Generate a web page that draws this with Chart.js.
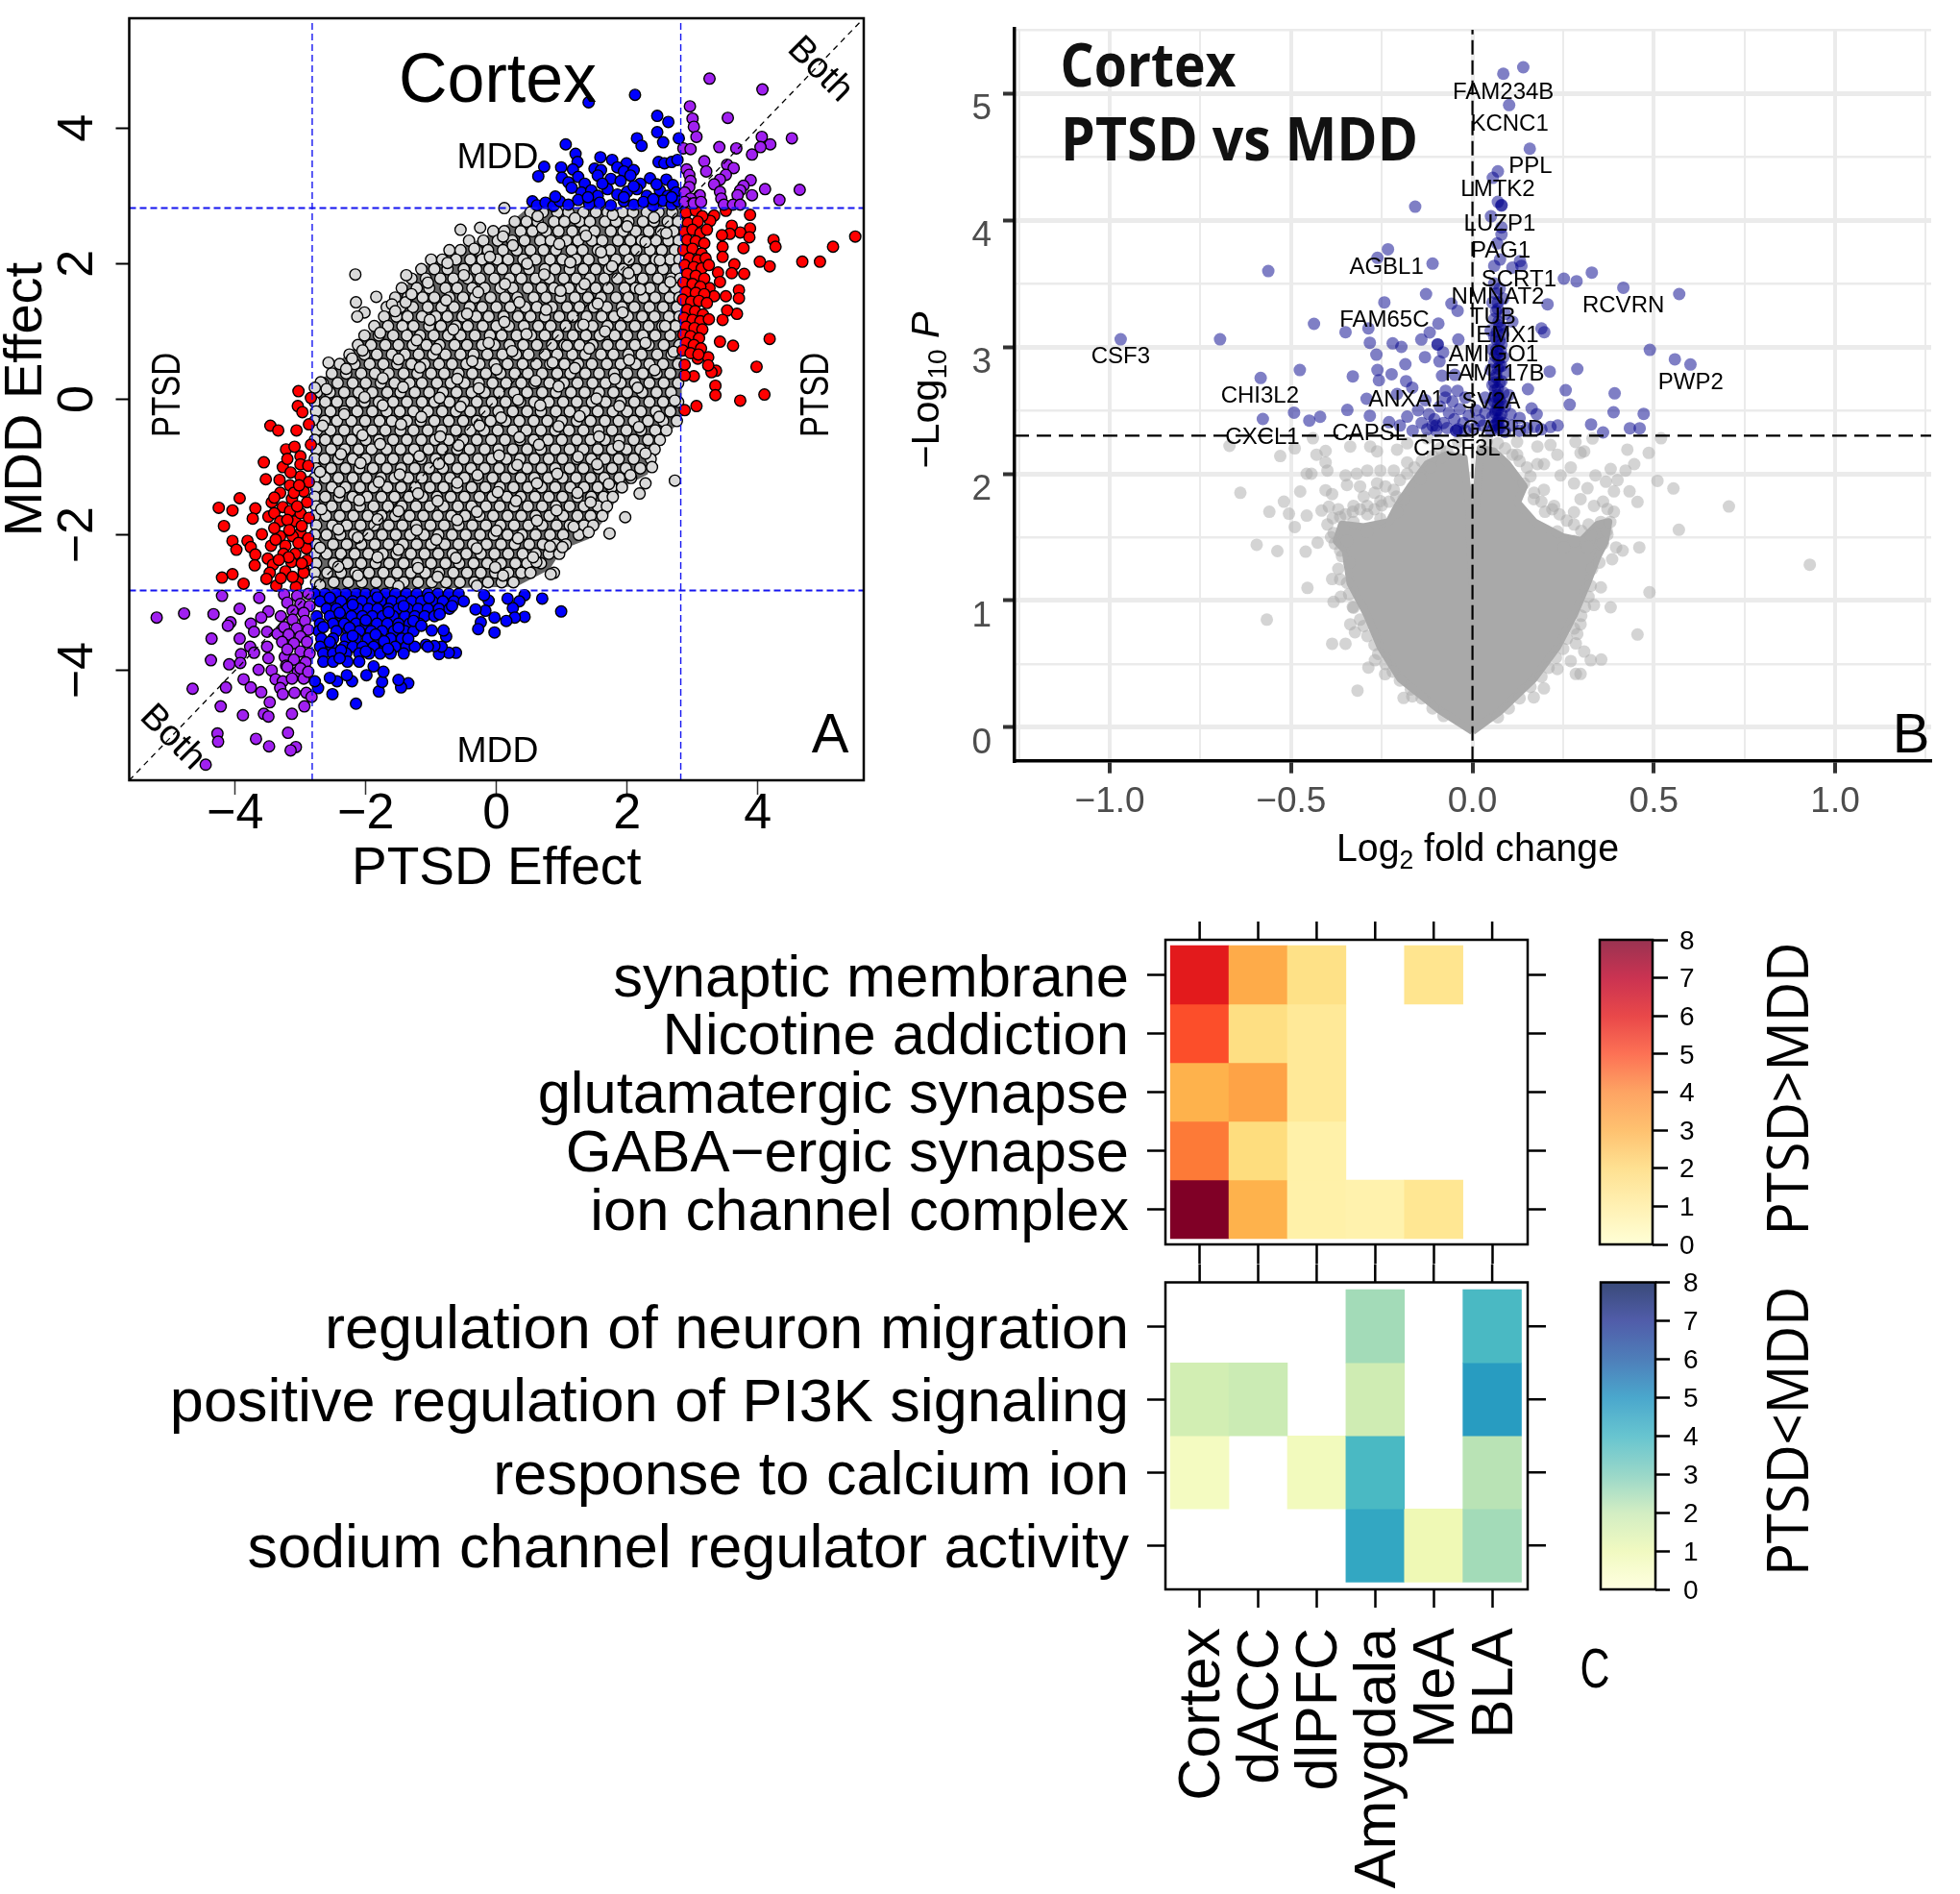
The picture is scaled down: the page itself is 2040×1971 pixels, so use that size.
<!DOCTYPE html>
<html><head><meta charset="utf-8">
<style>html,body{margin:0;padding:0;background:#fff;width:2040px;height:1971px;overflow:hidden}canvas{position:absolute}</style>
<script src="https://cdn.jsdelivr.net/npm/chart.js@4"></script>
</head><body>
<canvas id="a" width="960" height="960" style="left:0;top:0"></canvas>
<canvas id="b" width="1100" height="960" style="left:940px;top:0"></canvas>
<canvas id="c1" width="1640" height="375" style="left:0;top:940px"></canvas>
<canvas id="c2" width="1640" height="671" style="left:0;top:1300px"></canvas>
<canvas id="cb1" width="400" height="375" style="left:1640px;top:940px"></canvas>
<canvas id="cb2" width="400" height="480" style="left:1640px;top:1300px"></canvas>
<script>
// ---------- Panel A values ----------
const effectTicksA=[-4,-2,0,2,4];
const effectThreshold=2.82;
const cloudHullA=[[.45,2.78],[2.82,2.82],[2.82,-.3],[2.5,-.6],[2.3,-1.1],[1.9,-1.3],[1.7,-1.7],[1.4,-2.05],[1,-2.2],[.8,-2.5],[.3,-2.75],[-2.82,-2.82],[-2.82,.1],[-2.4,.55],[-2.1,.8],[-1.8,1.1],[-1.6,1.4],[-1.2,1.85],[-.9,2.1],[-.45,2.25],[-.1,2.42],[.2,2.58],[.45,2.78]];
const grayRowY=[2.76,2.62,2.48,2.34,2.2,2.06,1.92,1.78,1.64,1.5,1.36,1.22,1.08,.94,.8,.66,.52,.38,.24,.1,-.04,-.18,-.32,-.46,-.6,-.74,-.88,-1.02,-1.16,-1.3,-1.44,-1.58,-1.72,-1.86,-2,-2.14,-2.28,-2.42,-2.56,-2.7];
const grayRowX=[
[.52,.71,.93,1.1,1.33,1.52,1.7,1.93,2.09,2.3,2.48,2.69],
[.28,.46,.63,.88,1.04,1.27,1.43,1.66,1.83,2.02,2.24,2.41,2.62,2.78],
[-.05,.12,.37,.55,.76,.95,1.16,1.35,1.5,1.75,1.94,2.13,2.33,2.52,2.71],
[-.42,-.2,.02,.24,.43,.67,.83,1.07,1.25,1.46,1.62,1.86,2.05,2.22,2.44,2.63,2.79],
[-.72,-.55,-.3,-.13,.1,.31,.52,.72,.91,1.15,1.32,1.55,1.74,1.96,2.14,2.35,2.53,2.73],
[-1,-.83,-.62,-.4,-.22,.01,.18,.41,.6,.82,1.01,1.22,1.41,1.64,1.83,2.03,2.26,2.44,2.66,2.8],
[-1.15,-.95,-.75,-.5,-.31,-.11,.09,.3,.5,.74,.9,1.12,1.33,1.52,1.72,1.94,2.14,2.36,2.55,2.75],
[-1.3,-1.08,-.86,-.66,-.44,-.25,-.03,.2,.38,.6,.81,1.03,1.22,1.43,1.65,1.85,2.05,2.24,2.47,2.67,2.81],
[-1.45,-1.22,-1.03,-.78,-.6,-.37,-.18,.06,.25,.48,.69,.88,1.11,1.3,1.52,1.71,1.96,2.13,2.35,2.56,2.74],
[-1.55,-1.36,-1.13,-.95,-.72,-.51,-.33,-.09,.13,.32,.57,.76,.98,1.2,1.4,1.6,1.83,2.02,2.25,2.43,2.65,2.8],
[-1.68,-1.47,-1.28,-1.05,-.84,-.65,-.41,-.22,0,.21,.44,.62,.85,1.08,1.27,1.49,1.69,1.92,2.11,2.34,2.55,2.76],
[-1.72,-1.53,-1.36,-1.14,-.93,-.75,-.52,-.31,-.12,.11,.33,.52,.74,.96,1.17,1.38,1.61,1.8,2.01,2.23,2.42,2.64,2.8],
[-1.87,-1.66,-1.44,-1.27,-1.03,-.85,-.62,-.44,-.21,0,.19,.42,.64,.83,1.06,1.28,1.47,1.7,1.9,2.12,2.33,2.54,2.74],
[-2.02,-1.8,-1.58,-1.37,-1.17,-.96,-.74,-.55,-.33,-.1,.08,.31,.53,.74,.94,1.17,1.37,1.58,1.81,2,2.24,2.43,2.66],
[-2.12,-1.92,-1.7,-1.5,-1.28,-1.07,-.87,-.64,-.45,-.22,-.03,.2,.41,.62,.85,1.04,1.27,1.47,1.7,1.91,2.12,2.33,2.56,2.8],
[-2.25,-2.02,-1.83,-1.6,-1.4,-1.19,-.97,-.78,-.55,-.35,-.14,.09,.3,.49,.74,.93,1.16,1.36,1.6,1.79,2.02,2.22,2.46,2.68],
[-2.4,-2.17,-1.94,-1.73,-1.52,-1.3,-1.1,-.88,-.68,-.46,-.26,-.03,.17,.4,.61,.82,1.04,1.25,1.46,1.69,1.9,2.13,2.34,2.55,2.78],
[-2.52,-2.3,-2.07,-1.86,-1.65,-1.42,-1.21,-1,-.8,-.58,-.37,-.16,.06,.28,.48,.7,.93,1.13,1.36,1.57,1.8,2,2.24,2.45,2.66],
[-2.66,-2.43,-2.2,-2,-1.77,-1.56,-1.33,-1.14,-.91,-.7,-.49,-.27,-.06,.15,.38,.58,.81,1.03,1.24,1.47,1.67,1.9,2.12,2.34,2.56,2.78],
[-2.75,-2.55,-2.33,-2.11,-1.9,-1.67,-1.47,-1.25,-1.03,-.82,-.61,-.38,-.18,.04,.27,.47,.7,.91,1.14,1.35,1.57,1.79,2,2.23,2.45,2.67],
[-2.78,-2.62,-2.44,-2.22,-2.02,-1.8,-1.58,-1.37,-1.14,-.95,-.72,-.5,-.3,-.07,.14,.36,.58,.8,1.02,1.23,1.46,1.67,1.9,2.11,2.34,2.55,2.78],
[-2.76,-2.54,-2.33,-2.13,-1.9,-1.68,-1.48,-1.27,-1.05,-.83,-.62,-.4,-.18,.03,.25,.47,.68,.91,1.12,1.35,1.55,1.78,2,2.21,2.44,2.66],
[-2.78,-2.63,-2.44,-2.22,-2.01,-1.79,-1.6,-1.37,-1.16,-.95,-.73,-.51,-.3,-.09,.14,.35,.57,.78,1,1.23,1.44,1.66,1.87,2.1,2.32,2.55,2.76],
[-2.75,-2.54,-2.33,-2.12,-1.9,-1.7,-1.47,-1.27,-1.05,-.84,-.62,-.4,-.19,.02,.25,.46,.68,.9,1.11,1.33,1.56,1.77,1.99,2.21,2.43,2.6],
[-2.78,-2.62,-2.43,-2.22,-2,-1.8,-1.58,-1.37,-1.15,-.94,-.73,-.51,-.3,-.08,.13,.36,.57,.79,1,1.23,1.44,1.66,1.88,2.1,2.32,2.5],
[-2.76,-2.53,-2.32,-2.11,-1.91,-1.68,-1.47,-1.26,-1.04,-.83,-.6,-.41,-.18,.03,.25,.47,.68,.9,1.12,1.33,1.55,1.77,1.99,2.2,2.42],
[-2.78,-2.63,-2.42,-2.2,-2,-1.78,-1.58,-1.35,-1.15,-.93,-.72,-.5,-.28,-.07,.15,.36,.58,.8,1.01,1.23,1.45,1.66,1.87,2.1,2.36],
[-2.76,-2.53,-2.31,-2.1,-1.89,-1.68,-1.46,-1.25,-1.03,-.82,-.6,-.39,-.18,.04,.26,.47,.69,.9,1.12,1.33,1.56,1.77,1.98,2.2],
[-2.78,-2.62,-2.42,-2.2,-1.99,-1.77,-1.56,-1.35,-1.14,-.92,-.71,-.49,-.28,-.06,.14,.37,.58,.79,1.01,1.22,1.44,1.65,1.88,2.06],
[-2.76,-2.52,-2.31,-2.09,-1.88,-1.67,-1.46,-1.24,-1.02,-.81,-.6,-.38,-.17,.05,.26,.48,.69,.9,1.13,1.34,1.55,1.76,1.92],
[-2.78,-2.62,-2.41,-2.2,-1.98,-1.76,-1.56,-1.34,-1.13,-.91,-.7,-.49,-.26,-.06,.16,.37,.59,.8,1.01,1.24,1.45,1.64,1.78],
[-2.76,-2.52,-2.3,-2.09,-1.88,-1.66,-1.45,-1.23,-1.02,-.81,-.59,-.38,-.16,.05,.27,.48,.7,.91,1.12,1.34,1.55,1.69],
[-2.78,-2.61,-2.4,-2.19,-1.97,-1.76,-1.55,-1.33,-1.12,-.9,-.69,-.48,-.26,-.05,.17,.38,.6,.81,1.02,1.24,1.44,1.62],
[-2.76,-2.51,-2.29,-2.08,-1.87,-1.65,-1.44,-1.23,-1.01,-.8,-.58,-.37,-.16,.06,.27,.49,.7,.92,1.12,1.34,1.48],
[-2.78,-2.6,-2.39,-2.18,-1.96,-1.75,-1.54,-1.32,-1.11,-.89,-.68,-.47,-.25,-.04,.17,.39,.6,.82,1.02,1.26],
[-2.76,-2.5,-2.29,-2.07,-1.86,-1.65,-1.43,-1.22,-1,-.79,-.58,-.36,-.15,.07,.28,.5,.71,.9,1.06],
[-2.78,-2.6,-2.38,-2.17,-1.96,-1.74,-1.53,-1.31,-1.1,-.89,-.67,-.46,-.24,-.03,.18,.4,.6,.8,.96],
[-2.76,-2.49,-2.28,-2.07,-1.85,-1.64,-1.42,-1.21,-1,-.78,-.57,-.35,-.14,.07,.29,.47,.68],
[-2.78,-2.59,-2.38,-2.16,-1.95,-1.73,-1.52,-1.31,-1.09,-.88,-.66,-.45,-.24,-.02,.18,.38,.52],
[-2.76,-2.49,-2.27,-2.06,-1.84,-1.63,-1.42,-1.2,-.99,-.77,-.56,-.34,-.13,.08,.26]];
const grayOutliersA=[[-2.16,1.84],[-1.38,1.83],[-.55,2.5],[-.25,2.53],[.12,2.82],[-2.15,1.43],[-1.84,1.51],[-2.02,1.28],[-2.13,1.22],[-1.6,1.4],[-1.39,1.43],[-2.57,.54],[-2.21,.6],[-2.69,.25],[-2.78,.17],[2.73,-1.2],[2.38,-1],[2.28,-1.24],[2.19,-1.39],[1.97,-1.74],[1.73,-1.98],[1.41,-1.96],[.88,-2.56],[.83,-2.58],[.61,-2.4],[1.01,-2.18]];
const grayUpperLayerA=[[.63,2.7],[1.2,2.67],[1.78,2.72],[2.41,2.68],[.1,2.4],[.7,2.53],[1.37,2.41],[2,2.55],[2.6,2.45],[-.34,2.22],[.25,2.27],[.96,2.29],[1.6,2.17],[2.28,2.32],[-.75,2.01],[-.1,2.1],[.47,2],[1.13,2.02],[1.77,1.96],[2.5,2.05],[-1.05,1.72],[-.5,1.83],[.13,1.7],[.73,1.84],[1.35,1.7],[2.02,1.86],[2.66,1.73],[-1.3,1.55],[-.77,1.46],[-.28,1.58],[.35,1.43],[.98,1.6],[1.55,1.41],[2.2,1.62],[-1.55,1.3],[-1.02,1.17],[-.45,1.26],[.12,1.14],[.76,1.32],[1.33,1.1],[1.93,1.28],[2.58,1.08],[-1.78,.98],[-1.22,.87],[-.66,1.03],[-.12,.83],[.46,.96],[1.08,.79],[1.66,1],[2.28,.83],[-2.05,.72],[-1.5,.59],[-.92,.74],[-.37,.56],[.24,.71],[.86,.54],[1.42,.75],[2.03,.58],[2.71,.7],[-2.3,.45],[-1.74,.31],[-1.17,.47],[-.6,.3],[0,.44],[.6,.27],[1.2,.46],[1.81,.3],[2.42,.43],[-2.6,.15],[-2.02,.03],[-1.43,.18],[-.87,.02],[-.27,.16],[.33,-.01],[.95,.19],[1.53,.01],[2.16,.17],[2.73,-.02],[-2.33,-.22],[-1.74,-.09],[-1.15,-.26],[-.55,-.11],[.07,-.27],[.67,-.09],[1.27,-.25],[1.88,-.1],[2.49,-.26],[-2.66,-.39],[-2.05,-.53],[-1.46,-.37],[-.86,-.55],[-.26,-.39],[.35,-.56],[.95,-.4],[1.57,-.55],[2.18,-.41],[-2.38,-.81],[-1.78,-.66],[-1.18,-.84],[-.58,-.68],[.04,-.83],[.65,-.67],[1.25,-.85],[1.87,-.69],[2.28,-.8],[-2.7,-1.07],[-2.08,-.94],[-1.48,-1.11],[-.88,-.95],[-.29,-1.12],[.32,-.97],[.93,-1.1],[1.54,-.96],[2.05,-1.12],[-2.4,-1.37],[-1.8,-1.22],[-1.2,-1.39],[-.6,-1.23],[.02,-1.37],[.62,-1.24],[1.24,-1.38],[1.72,-1.25],[-2.68,-1.62],[-2.1,-1.49],[-1.5,-1.65],[-.9,-1.5],[-.3,-1.66],[.3,-1.5],[.92,-1.64],[1.44,-1.52],[-2.42,-1.92],[-1.82,-1.77],[-1.22,-1.93],[-.6,-1.78],[0,-1.94],[.62,-1.79],[1.18,-1.88],[-2.7,-2.19],[-2.12,-2.04],[-1.5,-2.22],[-.92,-2.07],[-.3,-2.2],[.33,-2.05],[.82,-2.17],[-2.42,-2.47],[-1.82,-2.33],[-1.2,-2.49],[-.62,-2.34],[-.02,-2.48],[.56,-2.33],[-2.7,-2.74],[-2.12,-2.6],[-1.5,-2.76],[-.9,-2.62],[-.3,-2.75],[.1,-2.6]];
const redPointsA=[[5.49,2.4],[5.15,2.25],[4.95,2.03],[4.68,2.03],[4.18,1.96],[4.03,2.03],[4.24,2.35],[4.27,2.25],[3.88,2.72],[3.88,2.52],[3.73,2.46],[3.6,2.56],[3.57,2.44],[3.87,2.39],[3.78,2.23],[3.51,2.78],[3.33,2.71],[3.27,2.63],[3.45,2.42],[3.46,2.25],[3.46,2.1],[3.64,1.99],[3.79,1.85],[3.6,1.86],[3.39,1.87],[3.42,1.73],[3.26,1.64],[3.71,1.61],[3.71,1.49],[3.51,1.52],[3.33,1.52],[3.68,1.26],[3.53,1.31],[3.46,1.17],[4.18,.89],[3.62,.79],[3.42,.85],[3.98,.48],[3.36,.42],[3.29,.4],[3.35,.2],[3.35,.06],[3.73,-.02],[4.1,.07],[3.06,-.1],[2.88,-.16],[3.02,.34],[2.88,.35],[2.88,.51],[3.08,.6],[3.24,.62],[3.24,.5],
[2.9,2.75],[3.05,2.78],[3.15,2.7],[2.93,2.6],[3.08,2.62],[2.88,2.47],[3,2.5],[3.12,2.45],[3.22,2.5],[2.92,2.35],[3.05,2.33],[3.18,2.3],[2.86,2.2],[3,2.22],[3.14,2.15],[2.95,2.08],[3.08,2.05],[3.2,2.08],[2.88,1.98],[3.02,1.95],[3.14,1.93],[3.25,1.98],[2.92,1.85],[3.05,1.82],[3.18,1.78],[2.86,1.72],[3,1.7],[3.12,1.66],[2.9,1.58],[3.05,1.57],[3.18,1.55],[2.85,1.47],[2.98,1.44],[3.1,1.45],[3.22,1.42],[2.92,1.32],[3.04,1.3],[3.16,1.25],[2.87,1.2],[3,1.17],[3.12,1.15],[3.25,1.18],[2.9,1.07],[3.03,1.05],[3.15,1.03],[2.86,.95],[2.97,.93],[3.1,.9],[2.9,.83],[3.02,.8],[3.13,.75],[2.85,.72],[2.97,.68],[3.09,.66],
[-3.03,.12],[-2.84,.02],[-3.04,-.1],[-2.97,-.19],[-3.46,-.39],[-3.34,-.46],[-3.06,-.46],[-2.87,-.37],[-3.22,-.74],[-3.09,-.7],[-2.84,-.67],[-3,-.84],[-3.56,-.93],[-3.27,-1],[-3,-.96],[-3.53,-1.18],[-3.32,-1.19],[-3,-1.14],[-3.16,-1.27],[-3.93,-1.46],[-4.25,-1.6],[-4.04,-1.64],[-4.17,-1.87],[-3.69,-1.61],[-3.73,-1.76],[-3.44,-1.52],[-3.31,-1.38],[-3.13,-1.47],[-2.95,-1.36],[-3.27,-1.59],[-3.49,-1.73],[-3.4,-1.68],[-3.08,-1.8],[-2.9,-1.52],[-3,-1.68],[-3.31,-1.8],[-2.87,-1.75],[-3.16,-1.65],[-4.04,-2.09],[-3.98,-2.22],[-3.81,-2.09],[-3.76,-2.18],[-3.69,-2.29],[-3.59,-1.99],[-3.45,-2.16],[-3.31,-2.02],[-3.23,-2.16],[-3,-1.97],[-2.91,-2.2],[-3.08,-2.28],[-3.26,-2.28],[-3.5,-2.35],[-3.42,-2.44],[-3.7,-2.45],[-3.14,-2.4],[-3.23,-2.54],[-2.95,-2.51],[-3.47,-2.56],[-3.52,-2.65],[-4.04,-2.58],[-4.2,-2.63],[-3.87,-2.72],[-3.37,-2.75],[-3.04,-2.68],[-2.95,-2.56],[-3.07,-2.77],[-2.88,-2.05],[-3.12,-2.02],[-2.87,-1.22],[-3.4,-1.9],[-3.2,-.88],[-3.15,-1.08],[-2.88,-.98],[-2.9,-2.38],
[-3.1,-1.38],[-3.05,-1.58],[-3.2,-1.78],[-2.98,-1.87],[-3.17,-1.93],[-3.38,-2.07],[-3.03,-2.12],[-3.18,-2.33],[-2.98,-2.42],[-3.33,-2.37],[-3.12,-2.62],[-3.3,-2.64],[-3.02,-1.27],[-3.4,-1.45]];
const bluePointsA=[[1.41,4.38],[2.12,4.49],[2.46,4.18],[2.63,4.09],[2.46,3.94],[2.15,3.85],[2.22,3.74],[2.55,3.79],[2.79,3.85],[1.06,3.76],[1.21,3.62],[1.24,3.5],[1.59,3.57],[.73,3.43],[.64,3.29],[.99,3.42],[1.17,3.39],[1.77,3.53],[1.99,3.48],[2.48,3.5],[2.57,3.48],[2.68,3.5],[2.77,3.53],
[1.5,3.4],[1.6,3.38],[1.85,3.42],[1.95,3.36],[2.1,3.38],[1,3.27],[1.1,3.2],[1.25,3.28],[1.35,3.18],[1.55,3.3],[1.75,3.25],[1.9,3.22],[2.05,3.3],[2.2,3.18],[2.35,3.26],[2.6,3.24],[2.7,3.16],[1.3,3.05],[1.45,3.08],[1.55,3],[1.7,3.1],[1.85,3.02],[2,3.06],[2.15,3.1],[2.3,3],[2.5,3.08],[2.62,3],[2.75,3.05],[.55,2.92],[.62,2.86],[.75,2.9],[.87,2.85],[.97,2.92],[1.1,2.87],[1.25,2.94],[1.42,2.88],[1.58,2.9],[1.75,2.86],[1.95,2.92],[2.1,2.87],[2.25,2.91],[2.4,2.85],[2.55,2.93],[2.68,2.87],[2.78,2.92],
[.99,-3.13],[.7,-2.94],[.43,-2.89],[.35,-2.98],[.25,-3.08],[.17,-2.94],[-.12,-2.97],[-.19,-2.89],[-.17,-3.12],[-.32,-3.1],[-.03,-3.22],[.43,-3.21],[.28,-3.22],[.15,-3.27],[-.24,-3.29],[-.28,-3.39],[-.03,-3.44],[-.62,-3.74],[-.73,-3.74],[-.88,-3.76],[-.77,-3.5],[-.81,-3.41],[-.99,-3.41],[-1.08,-3.62],[-.84,-3.65],[-.95,-3.64],[-1.35,-4.19],[-1.46,-4.25],[-1.5,-4.14],[-1.8,-4.31],[-1.75,-4.17],[-1.73,-4.02],[-1.99,-4.07],[-1.88,-3.94],[-2.15,-4.49],[-2.51,-4.35],[-2.21,-4.16],[-2.29,-4.07],[-2.44,-4.16],[-2.55,-4.11],[-2.73,-4.26],[-2.78,-4.16]];
const blueRowY=[-2.87,-2.98,-3.09,-3.2,-3.31,-3.42,-3.53,-3.65,-3.75,-3.87];
const blueRowX=[
[-2.78,-2.62,-2.45,-2.3,-2.14,-2,-1.85,-1.7,-1.55,-1.38,-1.22,-1.05,-.9,-.73,-.58],
[-2.7,-2.52,-2.38,-2.2,-2.06,-1.9,-1.77,-1.6,-1.45,-1.3,-1.15,-.98,-.82,-.65,-.5],
[-2.6,-2.45,-2.28,-2.12,-1.96,-1.82,-1.65,-1.5,-1.36,-1.2,-1.05,-.88,-.72],
[-2.75,-2.55,-2.38,-2.22,-2.05,-1.9,-1.74,-1.58,-1.4,-1.25,-1.1,-.95],
[-2.7,-2.5,-2.33,-2.15,-2,-1.83,-1.67,-1.5,-1.33,-1.18],
[-2.72,-2.45,-2.27,-2.1,-1.92,-1.75,-1.57,-1.4,-1.27],
[-2.68,-2.5,-2.3,-2.15,-1.97,-1.8,-1.62,-1.45],
[-2.7,-2.52,-2.33,-2.2,-2.05,-1.88,-1.7,-1.55,-1.38,-1.25,-1.05],
[-2.65,-2.5,-2.3,-2.1,-1.95,-1.78,-1.62,-1.42],
[-2.65,-2.5,-2.28,-2.1]];
const blueUpperLayerA=[[-2.55,-2.93],[-2.2,-3.03],[-1.82,-2.92],[-1.42,-3.05],[-1.03,-2.93],[-.68,-3.05],[-2.4,-3.15],[-2,-3.26],[-1.65,-3.14],[-1.27,-3.27],[-.87,-3.17],[-2.65,-3.36],[-2.25,-3.37],[-1.85,-3.47],[-1.5,-3.37],[-1.15,-3.34],[-2.55,-3.58],[-2.2,-3.49],[-1.72,-3.57],[-1.35,-3.53],[-2.38,-3.7],[-2,-3.72],[-1.66,-3.68],[-2.4,-3.82],[1.15,3.12],[1.62,3.18],[2.1,3.14],[2.45,3.17],[1.4,2.98],[1.95,2.98],[2.4,2.95],[.9,2.99],[2.68,2.98]];
const purplePointsA=[[3.26,4.73],[4.07,4.57],[2.96,4.32],[3,4.14],[3.54,4.15],[3.02,4.02],[3.06,3.87],[2.86,3.7],[2.97,3.69],[3.41,3.72],[3.67,3.7],[4.52,3.85],[4.06,3.87],[4.19,3.76],[4.04,3.72],[3.91,3.61],[3.18,3.51],[3.53,3.46],[3.63,3.41],[3.21,3.36],[2.91,3.39],[2.95,3.31],[2.97,3.22],[3.51,3.31],[3.42,3.24],[3.33,3.17],[3.89,3.23],[3.78,3.15],[3.73,3.08],[4.11,3.1],[4.64,3.09],[4.33,2.94],[3.91,3.01],[3.69,3.01],[3.42,3.06],[3.44,2.96],[2.95,3.13],[2.88,3.05],[3.11,3.01],[2.97,2.96],[2.88,2.91],[3.02,2.89],[3.13,2.91],[3.48,2.87],[3.62,2.87],[3.73,2.87],
[-5.2,-3.22],[-4.78,-3.16],[-4.33,-3.17],[-4.2,-2.9],[-3.63,-2.93],[-3.93,-3.09],[-3.49,-3.13],[-4.07,-3.29],[-4.11,-3.34],[-3.76,-3.31],[-3.6,-3.22],[-4.36,-3.53],[-3.93,-3.53],[-3.71,-3.43],[-3.51,-3.43],[-3.35,-3.46],[-3.77,-3.65],[-3.71,-3.74],[-3.51,-3.65],[-3.91,-3.76],[-3.92,-3.89],[-4.09,-3.91],[-4.37,-3.85],[-3.49,-3.82],[-3.24,-3.8],[-3.64,-3.99],[-3.44,-4],[-3.22,-3.93],[-4.65,-4.27],[-4.14,-4.25],[-3.87,-4.13],[-3.76,-4.25],[-3.6,-4.32],[-3.38,-4.13],[-3.27,-4.16],[-3.31,-4.26],[-3.27,-4.35],[-3.09,-4.33],[-2.91,-4.33],[-2.83,-4.39],[-3.04,-4.02],[-2.95,-4.12],[-3.13,-4.12],[-3.47,-4.47],[-4.22,-4.53],[-3.88,-4.66],[-3.56,-4.64],[-3.49,-4.68],[-3.13,-4.64],[-2.94,-4.53],[-4.27,-4.93],[-4.26,-5.05],[-3.68,-5.01],[-3.48,-5.12],[-3.19,-4.92],[-3.07,-5.13],[-3.15,-5.18],[-4.45,-5.39],
[-3.25,-2.88],[-3.05,-2.9],[-2.88,-2.87],[-3.2,-3],[-3,-3.02],[-2.86,-3.05],[-3.12,-3.12],[-2.95,-3.15],[-3.3,-3.2],[-3.12,-3.25],[-2.93,-3.27],[-3.25,-3.36],[-3.06,-3.38],[-2.88,-3.4],[-3.18,-3.47],[-3,-3.5],[-3.28,-3.58],[-3.1,-3.6],[-2.9,-3.58],[-3.2,-3.69],[-3,-3.72],[-2.86,-3.75],[-3.1,-3.84],[-2.92,-3.88],[-3.2,-3.95],[-3,-3.97],[-2.88,-4.02]];
// ---------- Panel B values ----------
const foldTicks=[-1.25,-1,-.75,-.5,-.25,0,.25,.5,.75,1,1.25];
const foldLabelled=[-1,-.5,0,.5,1];
const logPTicks=[0,.5,1,1.5,2,2.5,3,3.5,4,4.5,5,5.5];
const logPLabelled=[0,1,2,3,4,5];
const logPThreshold=2.3;
const geneNames=["FAM234B","KCNC1","PPL","LMTK2","LUZP1","PAG1","AGBL1","SCRT1","NMNAT2","RCVRN","TUB","FAM65C","EMX1","CSF3","AMIGO1","FAM117B","PWP2","CHI3L2","ANXA1","SV2A","GABRD","CAPSL","CXCL1","CPSF3L"];
const geneX=[.085,.102,.16,.07,.075,.078,-.237,.128,.07,.416,.056,-.243,.096,-.97,.058,.061,.602,-.586,-.183,.051,.085,-.283,-.579,-.043];
const geneY=[5.015,4.763,4.427,4.245,3.975,3.76,3.631,3.538,3.4,3.328,3.24,3.214,3.096,2.927,2.944,2.79,2.725,2.619,2.59,2.573,2.356,2.32,2.294,2.204];
const volcanoHull=[[0,-.03],[.077,.131],[.169,.384],[.234,.636],[.28,.889],[.317,1.141],[.344,1.343],[.365,1.46],[.375,1.62],[.345,1.6],[.3,1.47],[.25,1.5],[.17,1.62],[.123,1.773],[.142,1.9],[.096,2.076],[.059,2.177],[.022,2.2],[.018,2.076],[.007,1.646],[.004,1.394],[0,1.14],[-.006,1.394],[-.01,1.773],[-.024,2.126],[-.07,2.15],[-.125,2.076],[-.171,1.9],[-.208,1.74],[-.23,1.62],[-.3,1.58],[-.36,1.6],[-.375,1.47],[-.35,1.394],[-.337,1.14],[-.291,.889],[-.254,.636],[-.199,.384],[-.088,.131],[0,-.03]];
const grayVolcano=[[-.67,2.22],[-.53,2.14],[-.49,2.2],[-.44,2.28],[-.43,2.15],[-.405,2.18],[-.457,2],[-.444,2],[-.4,2.025],[-.405,2.09],[-.64,1.85],[-.475,1.86],[-.52,1.78],[-.56,1.7],[-.506,1.685],[-.457,1.67],[-.416,1.71],[-.405,1.87],[-.387,1.84],[-.396,1.74],[-.49,1.58],[-.595,1.44],[-.538,1.39],[-.46,1.386],[-.427,1.457],[-.387,1.17],[-.455,1.1],[-.567,.85],[-.387,.66],[-.35,.66],[-.317,.29],[-.19,.232],[-.166,.245],[-.287,.472],[-.241,.42],[-.269,.53],[-.383,.99],[-.363,1.03],[-.328,.944],[-.337,.813],[-.324,.75],[-.365,1.167],[-.346,1.14],
[.52,2.28],[.486,2.164],[.427,2.19],[.446,2.076],[.422,2.025],[.381,2.038],[.339,1.987],[.368,1.937],[.4,1.95],[.39,1.861],[.433,1.861],[.51,1.944],[.554,1.884],[.455,1.778],[.707,1.742],[.569,1.558],[.46,1.419],[.414,1.394],[.396,1.419],[.385,1.326],[.354,1.104],[.488,1.066],[.326,1.116],[.381,.947],[.335,.965],[.455,.732],[.93,1.283],[.298,.813],[.289,.737],[.285,.662],[.308,.598],[.326,.53],[.355,.535],[.271,.523],[.285,.422],[.234,.46],[.298,.422],[.197,.308],[.169,.237],
[.298,2.164],[.271,2.05],[.234,2.15],[.197,2.076],[.169,1.8],[.243,1.987],[.28,1.924],[.317,1.886],[.298,1.8],[.225,1.747],[.28,1.697],[.335,1.747],[.372,1.722],[.354,1.62],[.326,1.52],[.372,1.52],[.354,1.444],[.28,1.47],[.317,1.42],[.234,1.545],[.252,1.42],[.179,2.076],[.123,2.15],[.142,1.924],[.197,1.874],
[-.18,2.09],[-.217,2.025],[-.254,2.025],[-.29,2.025],[-.319,2],[-.35,1.987],[-.346,1.912],[-.31,1.9],[-.263,1.924],[-.217,1.874],[-.254,1.785],[-.328,1.747],[-.29,1.747],[-.365,1.66],[-.328,1.62],[-.383,1.533],[-.29,1.545],[-.254,1.646],[-.208,1.697],[-.346,1.47],[-.365,1.394],[-.19,1.8],[-.144,1.962],[-.116,2.05],[-.088,2.126],[-.07,2.177],
[-.337,2.215],[-.282,2.215],[-.263,2.177],[-.208,2.19],[-.18,2.24],[-.125,2.28],[.123,2.25],[.179,2.215],[.215,2.227],[.308,2.177],[.331,2.278],[.284,2.25],[-.04,2.25],[.04,2.26],
[-.34,1.3],[-.37,1.25],[-.36,1.35],[-.38,1.45],[-.39,1.5],[-.4,1.6],[-.385,1.65],[-.37,1.72],[-.35,1.68],[-.33,1.7],[-.31,1.72],[-.29,1.68],[-.27,1.72],[-.25,1.75],[-.23,1.78],[-.21,1.82],[-.3,1.82],[-.27,1.85],[-.24,1.9],[-.2,1.95],[-.18,2],[-.16,2.05],[-.14,2.1],[-.11,2.14],[-.09,2.2],[-.34,1.05],[-.33,.95],[-.31,.85],[-.3,.8],[-.29,.72],[-.27,.65],[-.26,.58],[-.24,.5],[-.22,.44],[-.2,.37],[-.17,.3],[-.14,.23],[-.11,.15],[-.08,.09],
[.33,1.25],[.35,1.3],[.36,1.45],[.37,1.55],[.38,1.62],[.39,1.7],[.36,1.78],[.32,1.6],[.3,1.55],[.28,1.6],[.26,1.63],[.24,1.68],[.22,1.72],[.2,1.7],[.19,1.78],[.17,1.85],[.16,1.98],[.15,2.05],[.13,2.1],[.11,2.15],[.09,2.2],[.07,2.24],[.32,1.03],[.31,.95],[.3,.88],[.28,.78],[.26,.7],[.25,.62],[.23,.55],[.21,.47],[.19,.4],[.16,.32],[.13,.23],[.1,.15],[.07,.08]];
const blueVolcano=[[.14,5.205],[.085,5.154],[.101,4.907],[.158,4.563],[.07,4.384],[.056,4.333],[-.158,4.106],[.07,4.144],[.08,4.119],[.08,4.114],[.051,4.03],[.08,3.942],[.08,3.886],[.068,3.816],[-.233,3.77],[-.262,3.702],[-.11,3.657],[-.563,3.598],[.06,3.639],[.076,3.689],[.131,3.677],[.135,3.639],[.11,3.626],[.252,3.538],[.287,3.518],[.329,3.586],[.416,3.467],[.57,3.417],[-.128,3.417],[-.243,3.351],[-.058,3.341],[-.041,3.285],[.207,3.336],[-.437,3.182],[-.35,3.116],[-.287,3.146],[-.094,3.184],[-.118,3.114],[-.141,3.058],[-.039,3.058],[-.283,3.033],[-.22,3.028],[-.196,3],[-.096,3.02],[-.096,3.02],[.19,3.146],[.198,3.116],[-.97,3.06],[-.696,3.06],[-.265,2.939],[-.131,2.919],[-.081,2.957],[-.185,2.864],[-.091,2.886],[.489,2.977],[.558,2.902],[.601,2.861],[.289,2.826],[.213,2.806],[-.476,2.818],[-.584,2.755],[-.33,2.768],[-.262,2.818],[-.223,2.785],[-.258,2.737],[-.183,2.73],[-.084,2.773],[-.049,2.78],[-.166,2.679],[.257,2.659],[.153,2.667],[.392,2.634],[-.292,2.591],[-.208,2.629],[-.074,2.654],[-.041,2.654],[.268,2.545],[.389,2.485],[.472,2.472],[-.345,2.503],[-.492,2.482],[-.283,2.457],[-.42,2.449],[-.578,2.432],[-.45,2.419],[-.23,2.407],[.327,2.389],[.36,2.326],[.434,2.359],[.461,2.359],[.235,2.381],[.215,2.369],[.177,2.47],[.163,2.515],
[.06,3.5],[.075,3.46],[.065,3.42],[.085,3.38],[.055,3.35],[.07,3.3],[.09,3.26],[.06,3.22],[.11,3.2],[.075,3.17],[.05,3.13],[.085,3.1],[.065,3.06],[.08,3.02],[.055,2.98],[.07,2.95],[.085,2.92],[.06,2.88],[.075,2.85],[.05,2.82],[.09,2.8],[.065,2.76],[.08,2.73],[.055,2.7],[.07,2.67],[.085,2.64],[.06,2.61],[.075,2.58],[.05,2.55],[.09,2.53],[.065,2.5],[.08,2.47],[.055,2.45],[.07,2.42],[.085,2.4],[.06,2.38],[.075,2.36],[.05,2.34],[.09,2.33],[.035,2.6],[.1,2.62],[.035,2.48],[.105,2.47],[.03,2.38],[.11,2.38],[.13,2.44],[.13,2.34],[.15,2.36],[.17,2.37],[.19,2.35],
[.07,3.35],[.065,3.28],[.072,3.2],[.068,3.12],[.075,3.05],[.066,2.98],[.072,2.9],[.07,2.83],[.065,2.78],[.075,2.72],[.062,2.66],[.072,2.6],[.07,2.54],[.063,2.48],[.075,2.44],[.065,2.39],[.07,2.35],[.062,2.93],[.078,2.97],[.06,3.08],[.08,3.15],[.06,2.72],[.08,2.55],[.06,2.57],[.08,2.85],[.07,2.62],[.07,2.5],[.07,2.4],
[-.2,2.38],[-.18,2.45],[-.165,2.34],[-.15,2.5],[-.14,2.4],[-.125,2.35],[-.12,2.47],[-.105,2.43],[-.1,2.34],[-.09,2.53],[-.08,2.4],[-.07,2.36],[-.065,2.48],[-.055,2.57],[-.05,2.43],[-.04,2.35],[-.035,2.51],[-.025,2.4],[-.02,2.34],[-.01,2.46],[.005,2.36],[.01,2.5],[.02,2.42],[-.13,2.58],[-.075,2.6],[-.02,2.6],[-.045,2.34],[-.045,2.34],[-.11,2.38],[-.1,2.38]];
// ---------- Panel C values ----------
const regions=["Cortex","dACC","dlPFC","Amygdala","MeA","BLA"];
const upTerms=["synaptic membrane","Nicotine addiction","glutamatergic synapse","GABA−ergic synapse","ion channel complex"];
const upValues=[[6,3.2,1.6,null,1.4,null],[5,1.7,1.2,null,null,null],[3,3.4,1.2,null,null,null],[4.3,1.8,.8,null,null,null],[8,3,.8,.7,1.3,null]];
const downTerms=["regulation of neuron migration","positive regulation of PI3K signaling","response to calcium ion","sodium channel regulator activity"];
const downValues=[[null,null,null,2.5,null,3.85],[1.7,1.9,null,1.8,null,4.7],[.6,null,.7,3.85,null,2.2],[null,null,null,4.4,.9,2.5]];
const scaleTicks=[0,1,2,3,4,5,6,7,8];
const warmPalette=["#ffffcc","#ffeda0","#fed976","#feb24c","#fd8d3c","#fc4e2a","#e31a1c","#bd0026","#800026"];
const coolPalette=["#ffffd9","#edf8b1","#c7e9b4","#7fcdbb","#41b6c4","#1d91c0","#225ea8","#253494","#081d58"];

// ---------- helpers ----------
const SANS='"Liberation Sans",Arial,sans-serif';
Chart.defaults.font.family=SANS;
Chart.defaults.color='#000';
Chart.defaults.animation=false;
Chart.defaults.responsive=false;
Chart.defaults.layout.autoPadding=false;
Chart.defaults.plugins.legend.display=false;
Chart.defaults.plugins.tooltip.enabled=false;
const MINUS=v=>String(v).replace('-','−');
const toXY=a=>a.map(p=>({x:p[0],y:p[1]}));
const rows=(ys,xs)=>ys.flatMap((y,i)=>xs[i].map(x=>({x,y})));
const hex=h=>[1,3,5].map(i=>parseInt(h.substr(i,2),16));
function paletteAt(p,v){const i=Math.min(Math.floor(v),p.length-2),t=v-i,a=hex(p[i]),b=hex(p[i+1]);return 'rgb('+a.map((c,k)=>Math.round(c+(b[k]-c)*t)).join(',')+')';}
const notes={id:'notes',afterDraw(ch,_,o){const c=ch.ctx;for(const n of o.items||[]){c.save();c.translate(n.x-ch.canvas.offsetLeft,n.y-ch.canvas.offsetTop);if(n.rot)c.rotate(n.rot*Math.PI/180);c.fillStyle=n.color||'#000';c.textBaseline='alphabetic';c.textAlign='left';
 const runs=n.runs||[{t:n.text,f:n.font}];let w=0;for(const r of runs){c.font=r.f;w+=c.measureText(r.t).width;}
 if(n.width){c.scale(n.width/w,1);}
 let px=-w/2;for(const r of runs){c.font=r.f;c.fillText(r.t,px,r.dy||0);px+=c.measureText(r.t).width;}
 c.restore();}}};
const frame={id:'frame',afterDatasetsDraw(ch,_,o){if(!o.width)return;const c=ch.ctx,a=ch.chartArea;c.save();c.strokeStyle='#000';c.lineWidth=o.width;c.strokeRect(a.left,a.top,a.right-a.left,a.bottom-a.top);
 if(o.tick){c.lineWidth=2.5;c.beginPath();for(const t of ch.scales.x.ticks){const p=ch.scales.x.getPixelForValue(t.value);c.moveTo(p,a.top);c.lineTo(p,a.top-o.tick);}for(const t of ch.scales.y.ticks){const p=ch.scales.y.getPixelForValue(t.value);c.moveTo(a.right,p);c.lineTo(a.right+o.tick,p);}c.stroke();}
 c.restore();}};
const genes={id:'genes',afterDatasetsDraw(ch){const c=ch.ctx;c.save();c.font='24px '+SANS;c.fillStyle='#000';c.textAlign='center';c.textBaseline='middle';geneNames.forEach((g,i)=>c.fillText(g,ch.scales.x.getPixelForValue(geneX[i]),ch.scales.y.getPixelForValue(geneY[i])+1));c.restore();}};
const fixed=(v,k)=>s=>{s[k]=v;s.paddingTop=s.paddingBottom=s.paddingLeft=s.paddingRight=0;};
const setTicks=a=>s=>{s.ticks=a.map(value=>({value}));};
const lineDs=(pts,color,w,dash)=>({type:'scatter',showLine:true,data:pts,borderColor:color,borderWidth:w,borderDash:dash,pointRadius:0,fill:false});

// ---------- Panel A ----------
const T=effectThreshold,L=5.62;
const ptA=(data,color)=>({data,backgroundColor:color,borderColor:'#000',borderWidth:1.4,pointRadius:5.8,showLine:false});
new Chart('a',{type:'scatter',data:{datasets:[
 lineDs([{x:-L,y:-L},{x:L,y:L}],'#000',1.3,[6,5]),
 lineDs([{x:-L,y:T},{x:L,y:T}],'#1414f0',2,[7,4]),
 lineDs([{x:-L,y:-T},{x:L,y:-T}],'#1414f0',2,[7,4]),
 lineDs([{x:-T,y:-L},{x:-T,y:L}],'#1414f0',1.4,[7,4]),
 lineDs([{x:T,y:-L},{x:T,y:L}],'#1414f0',1.4,[7,4]),
 ptA(toXY(purplePointsA),'#a020f0'),
 ptA(toXY(bluePointsA).concat(rows(blueRowY,blueRowX),toXY(blueUpperLayerA)),'#0000ff'),
 ptA(toXY(redPointsA),'#ff0000'),
 ptA(rows(grayRowY,grayRowX).concat(toXY(grayOutliersA),toXY(grayUpperLayerA)),'#d9d9d9'),
 {type:'scatter',showLine:true,data:toXY(cloudHullA),borderColor:'#666',backgroundColor:'#666',borderWidth:2,pointRadius:0,fill:'shape'}
]},options:{layout:{padding:{top:19,right:61}},scales:{
 x:{type:'linear',min:-L,max:L,afterBuildTicks:setTicks(effectTicksA),afterFit:fixed(148,'height'),grid:{drawOnChartArea:false,tickLength:15,tickColor:'#333',tickWidth:1.5},border:{display:false},ticks:{font:{size:52,lineHeight:1},padding:-5,maxRotation:0,callback:MINUS},title:{display:true,text:'PTSD Effect',font:{size:55,lineHeight:1.2},padding:{top:0,bottom:22}}},
 y:{type:'linear',min:-L,max:L,afterBuildTicks:setTicks(effectTicksA),afterFit:fixed(134.5,'width'),grid:{drawOnChartArea:false,tickLength:14,tickColor:'#000',tickWidth:2},border:{display:false},ticks:{font:{size:52},padding:9,minRotation:90,maxRotation:90,crossAlign:'center',callback:MINUS},title:{display:true,text:'MDD Effect',font:{size:56,lineHeight:1},padding:0}}
},plugins:{frame:{width:2.5},notes:{items:[
 {text:'Cortex',font:'72px '+SANS,x:518,y:106,width:206},
 {text:'MDD',font:'37px '+SANS,x:518,y:175,width:85},
 {text:'MDD',font:'37px '+SANS,x:518,y:793,width:85},
 {text:'PTSD',font:'42px "Liberation Sans Narrow",'+SANS,x:187,y:411,rot:-90,width:88},
 {text:'PTSD',font:'42px "Liberation Sans Narrow",'+SANS,x:862,y:411,rot:-90,width:88},
 {text:'Both',font:'38px '+SANS,x:846,y:80,rot:45},
 {text:'Both',font:'38px '+SANS,x:172,y:775,rot:45},
 {text:'A',font:'58px '+SANS,x:864,y:783}
]}}},plugins:[frame,notes]});

// ---------- Panel B ----------
const isMajor=(v,a)=>a.includes(v);
new Chart('b',{type:'scatter',data:{datasets:[
 lineDs([{x:-1.2625,y:logPThreshold},{x:1.2647,y:logPThreshold}],'#000',2.2,[15,8]),
 lineDs([{x:0,y:-.263},{x:0,y:5.5}],'#000',2.2,[15,6]),
 {data:toXY(blueVolcano),backgroundColor:'rgba(0,0,139,.5)',borderWidth:0,pointRadius:6.5,showLine:false},
 {data:toXY(grayVolcano),backgroundColor:'rgba(169,169,169,.5)',borderWidth:0,pointRadius:6.5,showLine:false},
 {type:'scatter',showLine:true,data:toXY(volcanoHull),borderColor:'#a9a9a9',backgroundColor:'#a9a9a9',borderWidth:8,borderJoinStyle:'round',pointRadius:0,fill:'shape'}
]},options:{layout:{padding:{top:30,right:30}},scales:{
 x:{type:'linear',min:-1.2625,max:1.2647,afterBuildTicks:setTicks(foldTicks),afterFit:fixed(168.3,'height'),
  grid:{color:'#ebebeb',lineWidth:c=>isMajor(c.tick.value,foldLabelled)?4:2,tickLength:13,tickColor:'#333',tickWidth:c=>isMajor(c.tick.value,foldLabelled)?4:0},
  border:{display:true,color:'#000',width:3.5},ticks:{font:{size:37},color:'#4d4d4d',padding:8,maxRotation:0,autoSkip:false,callback:v=>isMajor(v,foldLabelled)?MINUS(v.toFixed(1)):''}},
 y:{type:'linear',min:-.263,max:5.508,afterBuildTicks:setTicks(logPTicks),afterFit:fixed(116,'width'),
  grid:{color:'#ebebeb',lineWidth:c=>isMajor(c.tick.value,logPLabelled)?5:2.5,tickLength:12,tickColor:'#333',tickWidth:c=>isMajor(c.tick.value,logPLabelled)?4:0},
  border:{display:true,color:'#000',width:3.5},ticks:{font:{size:37},color:'#4d4d4d',padding:12,labelOffset:17,autoSkip:false,callback:v=>isMajor(v,logPLabelled)?String(v):''}}
},plugins:{notes:{items:[
 {text:'Cortex',font:'700 62px "Open Sans",'+SANS,x:1195,y:90,width:183,color:'#111'},
 {text:'PTSD vs MDD',font:'700 62px "Open Sans",'+SANS,x:1290,y:167,width:372,color:'#111'},
 {text:'B',font:'58px '+SANS,x:1989,y:783},
 {runs:[{t:'Log',f:'40px '+SANS},{t:'2',f:'27px '+SANS,dy:8},{t:' fold change',f:'40px '+SANS}],x:1538,y:896,width:294},
 {runs:[{t:'−Log',f:'40px '+SANS},{t:'10',f:'27px '+SANS,dy:8},{t:' ',f:'40px '+SANS},{t:'P',f:'italic 40px '+SANS}],x:977,y:406,rot:-90,width:163}
]}}},plugins:[notes,genes]});

// ---------- Panel C heat maps ----------
function heat(id,terms,values,palette,area,showLabels,labelSize){
 const n=terms.length;
 new Chart(id,{type:'bar',data:{datasets:terms.map((t,i)=>{const r=n-1-i,pts=[],cols=[];values[i].forEach((v,c)=>{if(v!==null){pts.push({x:c,y:[r,r+1]});cols.push(paletteAt(palette,v));}});
  return {data:pts,backgroundColor:cols,borderWidth:0,stack:'h',barPercentage:1,categoryPercentage:1,inflateAmount:.3};})},
 options:{layout:{padding:{top:area.top,right:area.right}},scales:{
  x:{type:'linear',offset:false,stacked:true,min:-.585,max:5.606,afterBuildTicks:setTicks(regions.map((_,i)=>i)),afterFit:fixed(area.bottom,'height'),grid:{offset:false,drawOnChartArea:false,tickLength:area.tick,tickColor:'#000',tickWidth:2.5},border:{display:false},
   ticks:{display:showLabels,font:{size:61},padding:21,labelOffset:4,minRotation:90,maxRotation:90,autoSkip:false,callback:v=>regions[v]}},
  y:{type:'linear',stacked:false,min:-.1,max:n+.1,afterBuildTicks:setTicks(terms.map((_,i)=>n-1-i+.5)),afterFit:fixed(1213,'width'),grid:{drawOnChartArea:false,tickLength:19,tickColor:'#000',tickWidth:2.5},border:{display:false},
   ticks:{font:{size:labelSize},padding:19,labelOffset:5,autoSkip:false,callback:v=>terms[n-1-Math.floor(v)]}}
 },plugins:{frame:{width:2.5,tick:19}}},plugins:[frame]});
}
heat('c1',upTerms,upValues,warmPalette,{top:38,right:50,bottom:20,tick:20},false,61.5);
heat('c2',downTerms,downValues,coolPalette,{top:34.5,right:50,bottom:317,tick:19},true,63);

// ---------- colour keys ----------
function key(id,palette,pad,barRight,canvasWidth,tickLen,labelPad,items){
 new Chart(id,{type:'bar',data:{labels:[''],datasets:[{data:[[0,8]],barPercentage:1,categoryPercentage:1,borderWidth:0,
  backgroundColor:c=>{const ch=c.chart;if(!ch.chartArea)return '#fff';const y=ch.scales.y,g=ch.ctx.createLinearGradient(0,y.getPixelForValue(0),0,y.getPixelForValue(8));palette.forEach((h,i)=>g.addColorStop(i/8,'rgba('+hex(h).join(',')+',.8)'));return g;}}]},
 options:{layout:{padding:{top:pad.top,left:pad.left,bottom:pad.bottom}},scales:{
  x:{display:false},
  y:{position:'right',min:0,max:8,afterBuildTicks:setTicks(scaleTicks),afterFit:fixed(canvasWidth-barRight,'width'),grid:{drawOnChartArea:false,tickLength:tickLen,tickColor:'#000',tickWidth:2.5},border:{display:false},ticks:{font:{size:28},padding:labelPad,labelOffset:2,autoSkip:false}}
 },plugins:{frame:{width:2.5},notes:{items}}},plugins:[frame,notes]});
}
key('cb1',warmPalette,{top:38,left:25,bottom:20},80,400,16,12,[{text:'PTSD>MDD',font:'60px "Open Sans",'+SANS,x:1882,y:1133,rot:-90,width:305}]);
key('cb2',coolPalette,{top:34.5,left:26,bottom:126},83,400,15,14,[{text:'PTSD<MDD',font:'60px "Open Sans",'+SANS,x:1882,y:1489.5,rot:-90,width:301},{text:'C',font:'58px '+SANS,x:1660,y:1756,width:31}]);
</script>
</body></html>
